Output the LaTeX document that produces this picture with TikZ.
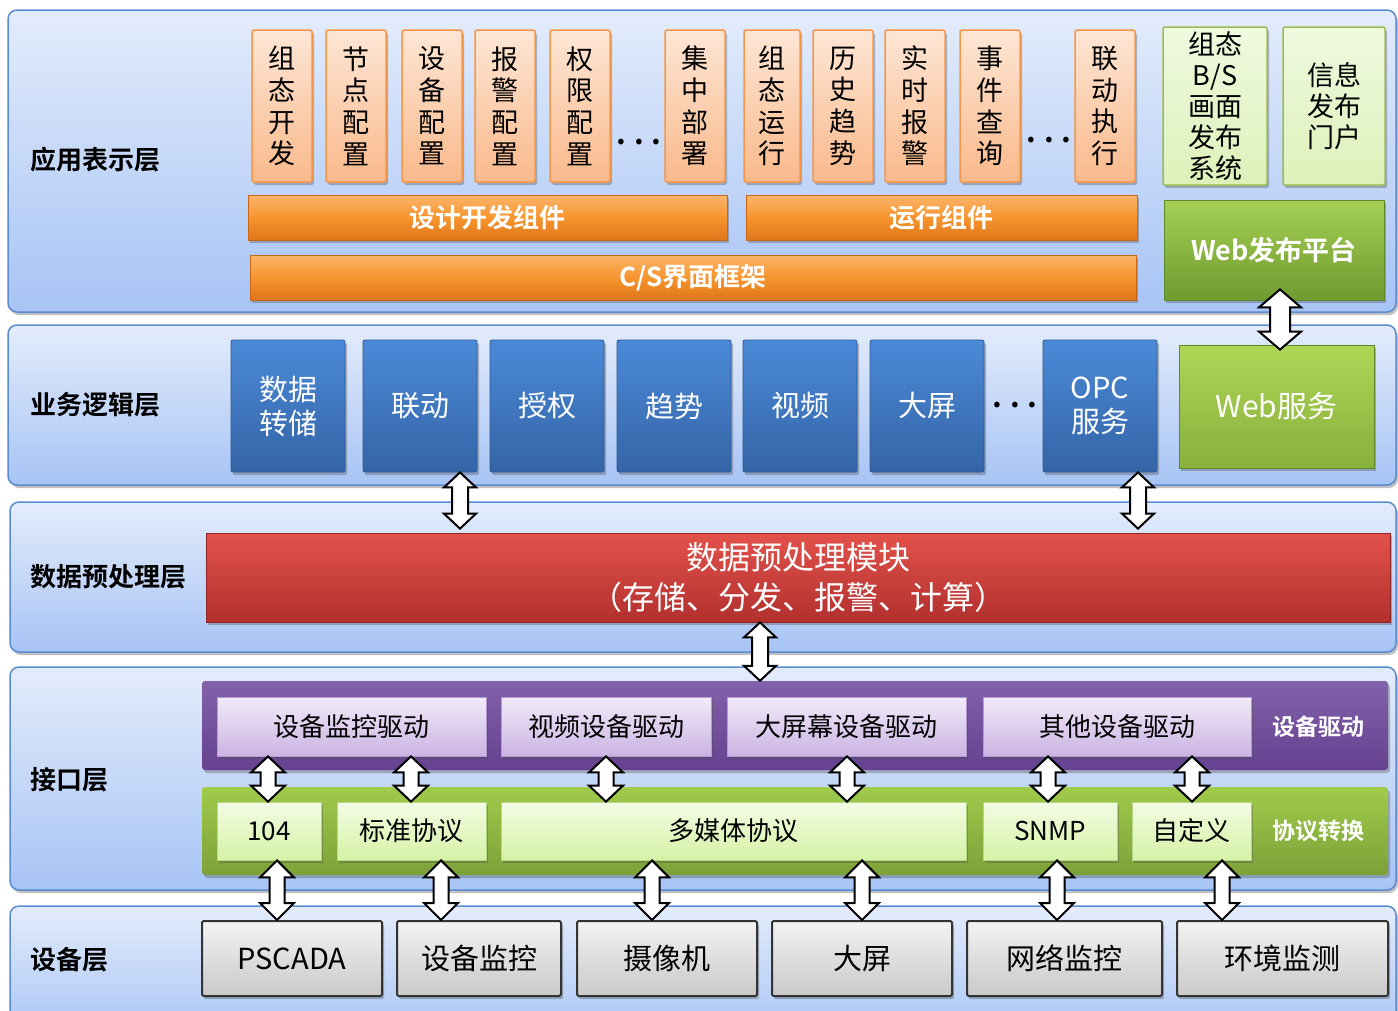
\documentclass[tikz,border=0pt]{standalone}
\usepackage{fontspec}
\setmainfont{Noto Sans CJK SC}[BoldFont={Noto Sans CJK SC Bold}]
\usetikzlibrary{shadows,calc}
\definecolor{lyTop}{HTML}{E3ECFB}
\definecolor{lyBot}{HTML}{A7C4F5}
\definecolor{lyBorder}{HTML}{5B8BD0}
\definecolor{orTop}{HTML}{FDE6D5}
\definecolor{orBot}{HTML}{F9B98B}
\definecolor{orBorder}{HTML}{F79646}
\definecolor{barTop}{HTML}{FBB46C}
\definecolor{barMid}{HTML}{F7952E}
\definecolor{barBot}{HTML}{E0761A}
\definecolor{barBorder}{HTML}{C8661A}
\definecolor{lgTop}{HTML}{EFF9DF}
\definecolor{lgBot}{HTML}{DDF1BA}
\definecolor{lgBorder}{HTML}{9BBB59}
\definecolor{gpTop}{HTML}{A5D054}
\definecolor{gpBot}{HTML}{6F9A30}
\definecolor{gpBorder}{HTML}{5E8A2A}
\definecolor{wsTop}{HTML}{AED656}
\definecolor{wsBot}{HTML}{88B03C}
\definecolor{blTop}{HTML}{4B8AD8}
\definecolor{blBot}{HTML}{3464A6}
\definecolor{blBorder}{HTML}{2D5892}
\definecolor{rdTop}{HTML}{E2524B}
\definecolor{rdBot}{HTML}{B2302E}
\definecolor{rdBorder}{HTML}{8F2422}
\definecolor{puTop}{HTML}{8262AA}
\definecolor{puBot}{HTML}{65418F}
\definecolor{liTop}{HTML}{F2EBF9}
\definecolor{liBot}{HTML}{CBB3E2}
\definecolor{liBorder}{HTML}{B49AD2}
\definecolor{gbTop}{HTML}{A0CB4B}
\definecolor{gbBot}{HTML}{7CA139}
\definecolor{pgTop}{HTML}{F3FCE4}
\definecolor{pgBot}{HTML}{D5F2A5}
\definecolor{pgBorder}{HTML}{B6D787}
\definecolor{dvTop}{HTML}{F3F3F3}
\definecolor{dvBot}{HTML}{C9C9C9}
\newcommand\fsz[2]{\fontsize{#1}{#2}\selectfont}
\newcommand\dbl[6]{%
\path[darr] let \p1=(#2), \p2=(#3) in
 ({#1pt},\y1) -- ({#1pt+#4pt},{\y1-#6pt}) -- ({#1pt+#5pt},{\y1-#6pt}) -- ({#1pt+#5pt},{\y2+#6pt}) -- ({#1pt+#4pt},{\y2+#6pt}) -- ({#1pt},\y2) -- ({#1pt-#4pt},{\y2+#6pt}) -- ({#1pt-#5pt},{\y2+#6pt}) -- ({#1pt-#5pt},{\y1-#6pt}) -- ({#1pt-#4pt},{\y1-#6pt}) -- cycle;}
\begin{document}
\begin{tikzpicture}[x=1pt,y=-1pt,
  shd/.style={drop shadow={shadow xshift=2pt,shadow yshift=-3pt,opacity=0.35,fill=black!70}},
  layer/.style={rounded corners=9pt,draw=lyBorder,line width=1.5pt,top color=lyTop,bottom color=lyBot,shd,inner sep=0pt},
  lbl/.style={font=\bfseries\fsz{26}{30},anchor=west,inner sep=0pt},
  ov/.style={draw=orBorder,line width=1.5pt,top color=orTop,bottom color=orBot,rounded corners=2pt,shd,inner sep=0pt,align=center,font=\fsz{27}{31.7}},
  lg/.style={draw=lgBorder,line width=1.5pt,top color=lgTop,bottom color=lgBot,rounded corners=2pt,shd,inner sep=0pt,align=center,font=\fsz{27}{31}},
  bar/.style={draw=barBorder,line width=0.8pt,top color=barTop,bottom color=barBot,middle color=barMid,shd,inner sep=0pt,text=white,font=\bfseries\fsz{26}{30}},
  gp/.style={draw=gpBorder,line width=0.8pt,top color=gpTop,bottom color=gpBot,shd,inner sep=0pt,text=white,font=\bfseries\fsz{27}{30}},
  bl/.style={draw=blBorder,line width=0.8pt,top color=blTop,bottom color=blBot,rounded corners=2pt,shd,inner sep=0pt,text=white,align=center,font=\fsz{29}{34}},
  ws/.style={draw=gpBorder,line width=0.8pt,top color=wsTop,bottom color=wsBot,shd,inner sep=0pt,text=white,font=\fsz{30}{34}},
  rd/.style={draw=rdBorder,line width=0.8pt,top color=rdTop,bottom color=rdBot,shd,inner sep=0pt,text=white,align=center,font=\fsz{32}{40}},
  pu/.style={top color=puTop,bottom color=puBot,rounded corners=3pt,shd,inner sep=0pt},
  gb/.style={top color=gbTop,bottom color=gbBot,rounded corners=3pt,shd,inner sep=0pt},
  li/.style={draw=liBorder,line width=0.8pt,top color=liTop,bottom color=liBot,shd,inner sep=0pt,font=\fsz{26}{30}},
  pg/.style={draw=pgBorder,line width=0.8pt,top color=pgTop,bottom color=pgBot,shd,inner sep=0pt,font=\fsz{26}{30}},
  dv/.style={draw=black!80,line width=2pt,top color=dvTop,bottom color=dvBot,rounded corners=1.5pt,shd,inner sep=0pt,font=\fsz{29}{34}},
  wl/.style={text=white,font=\bfseries\fsz{23}{26},inner sep=0pt},
  dotsn/.style={font=\bfseries\fsz{30}{30},inner sep=0pt},
  darr/.style={draw=black,fill=white,line width=2pt,line join=miter}]
\useasboundingbox (0,0) rectangle (1398,1010);
\fill[white] (0,0) rectangle (1398,1010);
% layers
\node[layer,minimum width=1388,minimum height=302] (L1) at (702,161) {};
\node[layer,minimum width=1388,minimum height=160] (L2) at (702,405) {};
\node[layer,minimum width=1386,minimum height=150] (L3) at (703,577) {};
\node[layer,minimum width=1386,minimum height=223] (L4) at (703,778.5) {};
\node[layer,minimum width=1386,minimum height=134] (L5) at (703,973) {};
\node[lbl] (t1) at (30,160) {应用表示层};
\node[lbl] (t2) at (30,405) {业务逻辑层};
\node[lbl] (t3) at (30,577) {数据预处理层};
\node[lbl] (t4) at (30,780) {接口层};
\node[lbl] (t5) at (30,960) {设备层};
% application layer
\node[ov,minimum width=60,minimum height=152] (o1) at (282,106) {组\\态\\开\\发};
\node[ov,minimum width=60,minimum height=152] (o2) at (356,106) {节\\点\\配\\置};
\node[ov,minimum width=60,minimum height=152] (o3) at (432,106) {设\\备\\配\\置};
\node[ov,minimum width=60,minimum height=152] (o4) at (505,106) {报\\警\\配\\置};
\node[ov,minimum width=60,minimum height=152] (o5) at (580,106) {权\\限\\配\\置};
\node[dotsn] (d1) at (639,142) {.\hspace{8pt}.\hspace{8pt}.};
\node[ov,minimum width=60,minimum height=152] (o6) at (695,106) {集\\中\\部\\署};
\node[ov,minimum width=56,minimum height=152] (o7) at (772,106) {组\\态\\运\\行};
\node[ov,minimum width=60,minimum height=152] (o8) at (843,106) {历\\史\\趋\\势};
\node[ov,minimum width=60,minimum height=152] (o9) at (915,106) {实\\时\\报\\警};
\node[ov,minimum width=60,minimum height=152] (o10) at (990,106) {事\\件\\查\\询};
\node[dotsn] (d2) at (1049,140) {.\hspace{8pt}.\hspace{8pt}.};
\node[ov,minimum width=60,minimum height=152] (o11) at (1105,106) {联\\动\\执\\行};
\node[lg,minimum width=104,minimum height=158] (g1) at (1215,106) {组态\\B/S\\画面\\发布\\系统};
\node[lg,minimum width=102,minimum height=158] (g2) at (1334,106) {信息\\发布\\门户};
\node[bar,minimum width=479,minimum height=45] (b1) at (487.5,217.5) {设计开发组件};
\node[bar,minimum width=391,minimum height=45] (b2) at (941.5,217.5) {运行组件};
\node[bar,minimum width=886,minimum height=45] (b3) at (693,277.5) {C/S界面框架};
\node[gp,minimum width=220,minimum height=100] (webpub) at (1274,250) {Web发布平台};
% business layer
\node[bl,minimum width=114,minimum height=132] (s1) at (288,406) {数据\\转储};
\node[bl,minimum width=114,minimum height=132] (s2) at (420,406) {联动};
\node[bl,minimum width=114,minimum height=132] (s3) at (547,406) {授权};
\node[bl,minimum width=114,minimum height=132] (s4) at (674,406) {趋势};
\node[bl,minimum width=114,minimum height=132] (s5) at (800,406) {视频};
\node[bl,minimum width=114,minimum height=132] (s6) at (927,406) {大屏};
\node[dotsn] (d3) at (1015,405) {.\hspace{8pt}.\hspace{8pt}.};
\node[bl,minimum width=114,minimum height=132] (s7) at (1100,406) {OPC\\服务};
\node[ws,minimum width=195,minimum height=123] (websvc) at (1276.5,406.5) {Web服务};
% preprocessing
\node[rd,minimum width=1184,minimum height=89] (red) at (798,577.5) {数据预处理模块\\（存储、分发、报警、计算）};
% interface layer
\node[pu,minimum width=1186,minimum height=89] (drvband) at (795,725.5) {};
\node[gb,minimum width=1186,minimum height=88] (prtband) at (795,831) {};
\node[li,minimum width=269,minimum height=59] (drvA) at (351.5,726.5) {设备监控驱动};
\node[li,minimum width=210,minimum height=59] (drvB) at (606,726.5) {视频设备驱动};
\node[li,minimum width=239,minimum height=59] (drvC) at (846.5,726.5) {大屏幕设备驱动};
\node[li,minimum width=268,minimum height=59] (drvD) at (1117,726.5) {其他设备驱动};
\node[wl] (wl1) at (1318,727) {设备驱动};
\node[pg,minimum width=104,minimum height=58] (p104) at (269,831) {104};
\node[pg,minimum width=149,minimum height=58] (pstd) at (411.5,831) {标准协议};
\node[pg,minimum width=465,minimum height=58] (pmm) at (733.5,831) {多媒体协议};
\node[pg,minimum width=134,minimum height=58] (psnmp) at (1050,831) {SNMP};
\node[pg,minimum width=119,minimum height=58] (pcus) at (1191.5,831) {自定义};
\node[wl] (wl2) at (1318,831) {协议转换};
% devices
\node[dv,minimum width=180,minimum height=75] (e1) at (292,958.5) {PSCADA};
\node[dv,minimum width=164,minimum height=75] (e2) at (479,958.5) {设备监控};
\node[dv,minimum width=180,minimum height=75] (e3) at (667,958.5) {摄像机};
\node[dv,minimum width=180,minimum height=75] (e4) at (862,958.5) {大屏};
\node[dv,minimum width=195,minimum height=75] (e5) at (1064.5,958.5) {网络监控};
\node[dv,minimum width=211,minimum height=75] (e6) at (1282.5,958.5) {环境监测};
% arrows
\dbl{1280}{$(webpub.south)+(0,-11)$}{$(websvc.north)+(0,5)$}{21}{10}{18}
\dbl{460}{s2.south}{$(red.north)+(0,-4)$}{16}{8}{15}
\dbl{1138}{s7.south}{$(red.north)+(0,-4)$}{16}{8}{15}
\dbl{760}{red.south}{drvband.north}{16}{8}{15}
\dbl{268}{drvA.south}{p104.north}{17}{7.5}{16}
\dbl{411}{drvA.south}{pstd.north}{17}{7.5}{16}
\dbl{606}{drvB.south}{pmm.north}{17}{7.5}{16}
\dbl{847}{drvC.south}{pmm.north}{17}{7.5}{16}
\dbl{1048}{drvD.south}{psnmp.north}{17}{7.5}{16}
\dbl{1192}{drvD.south}{pcus.north}{17}{7.5}{16}
\dbl{277}{p104.south}{e1.north}{17}{7.5}{17}
\dbl{441}{pstd.south}{e2.north}{17}{7.5}{17}
\dbl{652}{pmm.south}{e3.north}{17}{7.5}{17}
\dbl{862}{pmm.south}{e4.north}{17}{7.5}{17}
\dbl{1057}{psnmp.south}{e5.north}{17}{7.5}{17}
\dbl{1222}{pcus.south}{e6.north}{17}{7.5}{17}
\end{tikzpicture}
\end{document}
